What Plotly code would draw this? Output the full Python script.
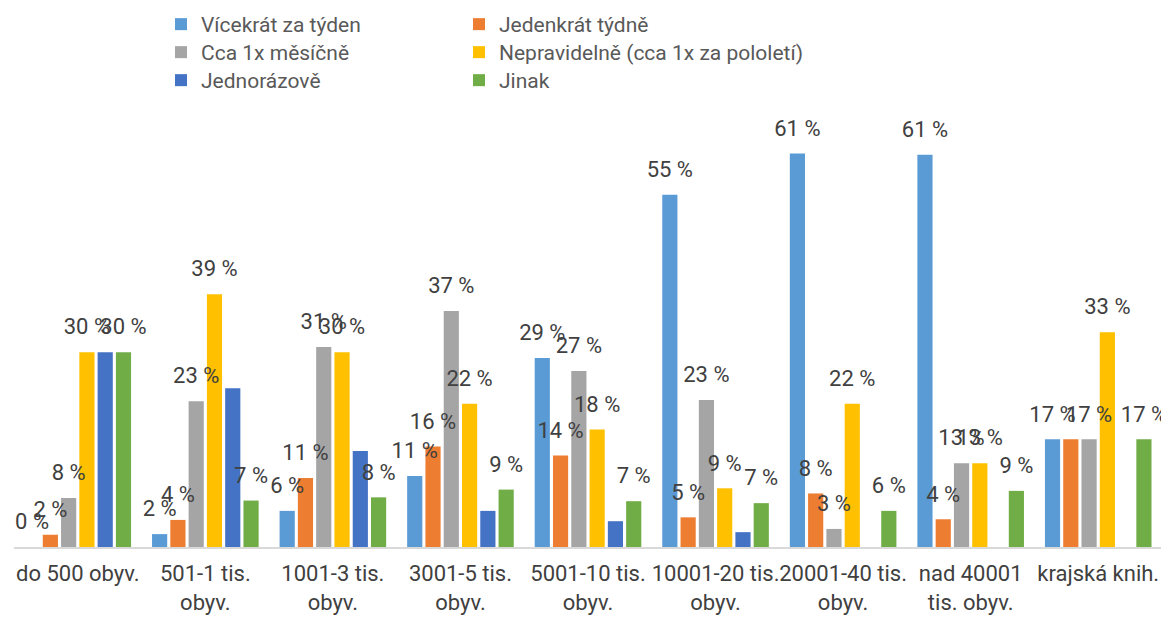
import plotly.graph_objects as go

categories = ["do 500 obyv.", "501-1 tis.<br>obyv.", "1001-3 tis.<br>obyv.", "3001-5 tis.<br>obyv.",
              "5001-10 tis.<br>obyv.", "10001-20 tis.<br>obyv.", "20001-40 tis.<br>obyv.",
              "nad 40001<br>tis. obyv.", "krajská knih."]

vicekrat = [0.0, 2.0, 5.6, 11.0, 29.3, 54.6, 61.0, 60.8, 16.7]
jedenkrat = [1.9, 4.2, 10.7, 15.6, 14.2, 4.6, 8.3, 4.3, 16.7]
mesicne = [7.6, 22.6, 31.0, 36.6, 27.3, 22.8, 2.8, 13.0, 16.7]
nepravidelne = [30.2, 39.2, 30.2, 22.2, 18.2, 9.1, 22.2, 13.0, 33.3]
jednorazove = [30.2, 24.6, 14.9, 5.6, 4.0, 2.3, 0.0, 0.0, 0.0]
jinak = [30.2, 7.2, 7.7, 8.9, 7.1, 6.8, 5.6, 8.7, 16.7]

# data labels not shown in the original (series name -> category indices)
hidden_labels = {"Jednorázově": list(range(9)), "Jedenkrát týdně": [8]}

series = [
    ("Vícekrát za týden", vicekrat, "#5B9BD5"),
    ("Jedenkrát týdně", jedenkrat, "#ED7D31"),
    ("Cca 1x měsíčně", mesicne, "#A5A5A5"),
    ("Nepravidelně (cca 1x za pololetí)", nepravidelne, "#FFC000"),
    ("Jednorázově", jednorazove, "#4472C4"),
    ("Jinak", jinak, "#70AD47"),
]

FONT = "Roboto, 'Open Sans', sans-serif"
fig = go.Figure()
for i, (name, vals, color) in enumerate(series):
    fig.add_trace(go.Bar(
        x=categories, y=vals, name=name, marker=dict(color=color, line=dict(width=0)),
        offsetgroup=str(i), legend="legend" if i == 0 else f"legend{i + 1}", hoverinfo="skip",
    ))
for i, (name, vals, color) in enumerate(series):
    hidden = hidden_labels.get(name, [])
    fig.add_trace(go.Scatter(
        x=categories, y=vals, mode="markers+text",
        text=["" if j in hidden else f"{v:.0f} %" for j, v in enumerate(vals)],
        textposition="top center",
        textfont=dict(family=FONT, size=22, color="#404040"),
        marker=dict(size=18, opacity=0),
        offsetgroup=str(i), showlegend=False, hoverinfo="skip", cliponaxis=False,
    ))

# page body margin offsets the figure by 8px; figure coordinates below are page - 8
W, H = 1161, 611
PLOT_L, PLOT_T, PLOT_W, PLOT_H = 6, 92, 1148, 447


def legend_cell(i):
    left_px = 153 if i % 2 == 0 else 451
    top_px = -4 + 28 * (i // 2)
    return dict(x=(left_px - PLOT_L) / PLOT_W, y=1 + (PLOT_T - top_px) / PLOT_H,
                xanchor="left", yanchor="top",
                bgcolor="rgba(0,0,0,0)", traceorder="normal",
                font=dict(family=FONT, size=21, color="#595959"))


legends = {("legend" if i == 0 else f"legend{i + 1}"): legend_cell(i) for i in range(len(series))}

fig.update_layout(
    width=W, height=H,
    margin=dict(l=PLOT_L, r=W - PLOT_L - PLOT_W, t=PLOT_T, b=H - PLOT_T - PLOT_H, autoexpand=False),
    paper_bgcolor="white", plot_bgcolor="white",
    barmode="group", bargap=0.14, bargroupgap=0.17,
    scattermode="group", scattergap=0.14,
    font=dict(family=FONT, size=22, color="#404040"),
    xaxis=dict(type="category", range=[-0.5, len(categories) - 0.5], autorange=False,
               showline=True, linecolor="#D9D9D9", linewidth=2, ticks="", showgrid=False,
               tickangle=0, automargin=False, ticklabelstandoff=6,
               tickfont=dict(family=FONT, size=22, color="#404040")),
    yaxis=dict(range=[0, 69.3], visible=False, showgrid=False),
    **legends,
)

fig.write_html("out.html")
